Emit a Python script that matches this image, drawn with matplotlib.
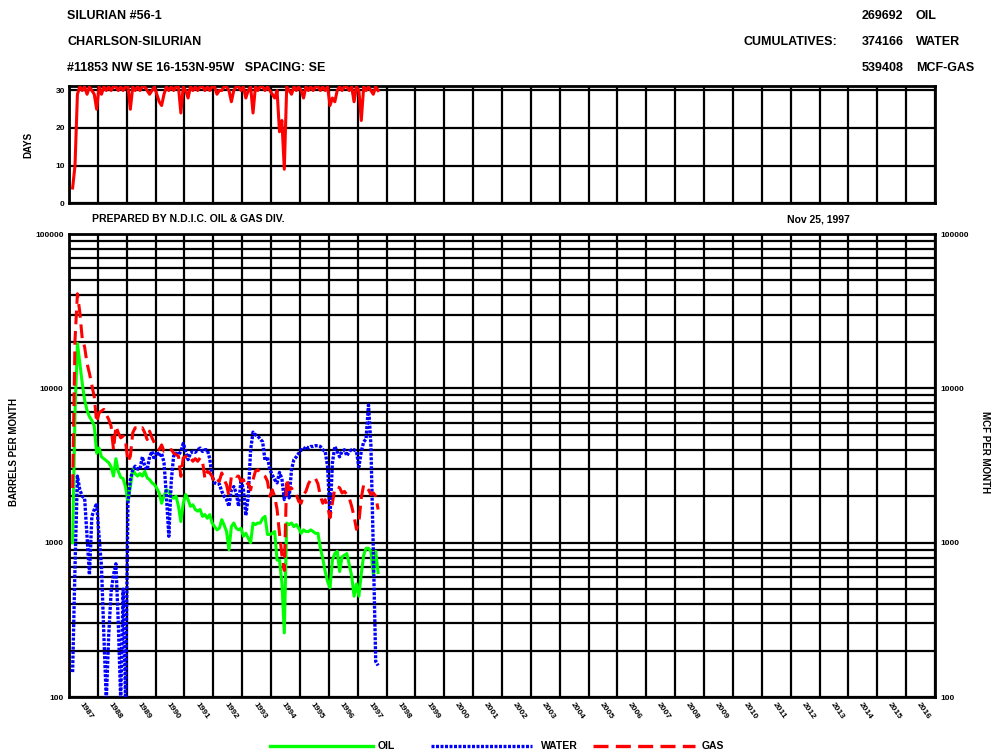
import numpy as np
import matplotlib
matplotlib.use('Agg')
import matplotlib.pyplot as plt
from matplotlib.lines import Line2D
from matplotlib.ticker import LogLocator, NullFormatter, FixedLocator

FONT = ['Liberation Sans Narrow', 'Liberation Sans', 'DejaVu Sans']

# ---- well header -------------------------------------------------------
header_left = ['SILURIAN #56-1', 'CHARLSON-SILURIAN', '#11853 NW SE 16-153N-95W   SPACING: SE']
cum_values = ['269692', '374166', '539408']
cum_names = ['OIL', 'WATER', 'MCF-GAS']
prepared = 'PREPARED BY N.D.I.C. OIL & GAS DIV.'
report_date = 'Nov 25, 1997'

# ---- monthly production, Feb 1987 .. Sep 1997 ---------------------------
first_month = 1987 + 1 / 12.  # Feb 1987
year_labels = list(range(1987, 2017))

days = [4, 10, 29, 31, 30, 31, 29, 31, 30, 29, 25,               # 1987
        31, 29, 31, 30, 31, 30, 31, 31, 30, 31, 30, 31,          # 1988
        31, 25, 31, 30, 31, 30, 31, 31, 30, 29, 30, 31,          # 1989
        29, 27, 26, 29, 31, 30, 31, 30, 31, 31, 24, 31,          # 1990
        30, 28, 31, 30, 31, 30, 31, 31, 30, 31, 30, 31,          # 1991
        31, 29, 30, 30, 31, 31, 30, 27, 30, 31, 31, 30,          # 1992
        31, 28, 30, 31, 24, 31, 30, 31, 31, 30, 31, 30,          # 1993
        29, 28, 30, 19, 22, 9, 31, 30, 29, 31, 30, 31,           # 1994
        30, 28, 31, 30, 31, 30, 31, 31, 30, 31, 30, 31,          # 1995
        26, 28, 27, 30, 31, 30, 31, 31, 30, 31, 27, 31,          # 1996
        30, 22, 31, 30, 31, 30, 29, 31, 30]                      # 1997

oil = [1000, 7000, 19600, 14500, 10800, 8400, 7200, 6550, 6200, 5700, 3800,
       4100, 3600, 3500, 3400, 3300, 3100, 2700, 3500, 2900, 2650, 2600, 2300,
       1850, 2300, 2970, 2800, 2700, 2800, 2700, 2900, 2630, 2560, 2440, 2380,
       2250, 2100, 1800, 2000, 2200, 2150, 1990, 1940, 2000, 1720, 1370, 1800,
       2050, 1900, 1720, 1760, 1640, 1600, 1640, 1480, 1520, 1440, 1520, 1340,
       1270, 1210, 1240, 1410, 1300, 1180, 900, 1270, 1340, 1240, 1210, 1240,
       1100, 1150, 1070, 1000, 1340, 1310, 1340, 1340, 1440, 1480, 1130, 1130,
       1150, 1180, 770, 770, 550, 260, 1340, 1310, 1340, 1270, 1310, 1240,
       1150, 1210, 1180, 1180, 1210, 1180, 1150, 1150, 920, 790, 650, 560,
       510, 770, 850, 880, 650, 810, 830, 850, 720, 610, 450, 540,
       450, 630, 830, 920, 920, 880, 620, 880, 640]

water = [145, 700, 2700, 2200, 2000, 1940, 1100, 620, 1480, 1640, 1800,
         1100, 700, 250, 95, 250, 480, 620, 730, 300, 95, 500, 95,
         1800, 2560, 2970, 3130, 3000, 3000, 3600, 3130, 2970, 3600, 3900, 3450,
         3900, 3630, 3800, 3300, 2000, 1100, 2500, 3650, 3800, 3700, 3900, 4400,
         3900, 3450, 3800, 3900, 3850, 4000, 4100, 3900, 4000, 4000, 3500, 2690,
         2440, 2400, 2400, 2150, 2000, 1900, 1720, 2200, 2310, 2100, 1720, 2560,
         2200, 1500, 1990, 4000, 5200, 5000, 4900, 4700, 4500, 3400, 3600, 2970,
         2750, 2560, 2440, 2850, 2600, 1900, 2300, 1950, 2970, 3450, 3600, 3800,
         4000, 4000, 4200, 4100, 4200, 4200, 4250, 4250, 4200, 4000, 3900, 3100,
         1480, 3290, 4200, 3900, 3600, 3900, 4000, 3650, 3900, 4000, 4000, 3900,
         3100, 3900, 4500, 4700, 7800, 4300, 900, 170, 160]

gas = [2260, 20600, 41000, 31000, 21000, 18500, 14500, 12500, 10500, 8800, 6000,
       6950, 7120, 7300, 6770, 6290, 5690, 4000, 5690, 5150, 4780, 4900, 4550,
       3350, 3630, 5150, 5550, 5550, 5410, 5550, 5150, 4660, 5280, 4780, 4430,
       4220, 4010, 4300, 3910, 3950, 3910, 4010, 3810, 3720, 3630, 2690, 3540,
       3630, 3450, 3540, 3370, 3500, 3370, 3540, 3370, 2600, 2900, 2830, 2690,
       2440, 2560, 2500, 2830, 2560, 2370, 2000, 2690, 2760, 2690, 2700, 2500,
       2560, 2310, 2440, 2200, 2560, 2900, 2970, 2830, 2760, 2690, 2500, 2000,
       2200, 1990, 1640, 1150, 830, 660, 2600, 2200, 2260, 2100, 2050, 1850,
       1800, 2050, 2150, 2400, 2560, 2560, 2600, 2400, 2000, 1800, 1900, 1720,
       1450, 1800, 2250, 2300, 2270, 2100, 2150, 2050, 1950, 1720, 1480, 1220,
       1350, 1950, 2370, 2300, 2200, 2050, 2100, 2000, 1640]

# mid-month positions in decimal years
t = first_month + (np.arange(len(oil)) + 0.5) / 12.

W, H = 995, 755
WATER_LS = (0, (0.9, 0.45))  # dense square dots
GAS_LS = (0, (4.5, 2.2))


def fpos(x, y):
    """pixel position -> figure fraction"""
    return x / W, 1 - y / H


def ftext(x, y, s, size=9, **kw):
    fx, fy = fpos(x, y)
    fig.text(fx, fy, s, fontsize=size, fontweight='bold', family=FONT, va='center', **kw)


fig = plt.figure(figsize=(W / 100, H / 100), dpi=100)
ax_d = fig.add_axes([69 / W, 1 - 203 / H, 866 / W, 117 / H])
ax = fig.add_axes([69 / W, 1 - 697 / H, 866 / W, 463 / H])

grid_kw = dict(color='black', lw=1.6)

# ---- days panel ----------------------------------------------------------
ax_d.plot(t, days, color='#ff0000', lw=2.2, zorder=3)
ax_d.set_xlim(1987, 2017)
ax_d.set_ylim(0, 31.2)
ax_d.set_xticks(range(1987, 2018))
ax_d.set_yticks([0, 10, 20, 30])
ax_d.grid(True, **grid_kw)
ax_d.tick_params(length=0, labelbottom=False, labelsize=6, pad=3)
for lab in ax_d.get_yticklabels():
    lab.set_fontweight('bold')
    lab.set_family(FONT)
for sp in ax_d.spines.values():
    sp.set_linewidth(2)

# ---- production panel ----------------------------------------------------
ax.plot(t, oil, color='#00ff00', lw=2.2, zorder=3)
ax.plot(t, water, color='#0000ff', lw=2.4, ls=WATER_LS, dash_capstyle='butt', zorder=4)
ax.plot(t, gas, color='#ff0000', lw=2.2, ls=GAS_LS, zorder=5)
ax.set_yscale('log')
ax.set_xlim(1987, 2017)
ax.set_ylim(100, 100000)
ax.set_xticks(range(1987, 2018))
ax.set_xticklabels([])
ax.yaxis.set_major_locator(FixedLocator([100, 1000, 10000, 100000]))
ax.yaxis.set_minor_locator(LogLocator(base=10, subs=range(2, 10)))
ax.yaxis.set_minor_formatter(NullFormatter())
ax.set_yticklabels(['100', '1000', '10000', '100000'])
ax.grid(True, which='major', **grid_kw)
ax.grid(True, which='minor', axis='y', **grid_kw)
ax.tick_params(which='both', length=0, labelsize=6, pad=4, labelright=True)
for lab in ax.get_yticklabels():
    lab.set_fontweight('bold')
    lab.set_family(FONT)
for sp in ax.spines.values():
    sp.set_linewidth(2)

for yr in year_labels:
    ax.text(yr + 0.6, -0.03, str(yr), transform=ax.get_xaxis_transform(),
            rotation=-55, ha='center', va='center', fontsize=6, fontweight='bold', family=FONT)

# ---- header texts ----------------------------------------------------------
for i, s in enumerate(header_left):
    ftext(67, 16 + 26 * i, s)
ftext(744, 42, 'CUMULATIVES:')
for i in range(3):
    ftext(862, 16 + 26 * i, cum_values[i])
    ftext(916, 16 + 26 * i, cum_names[i])

ftext(92, 219, prepared, size=7.5)
ftext(787, 219, report_date, size=7.5)

ftext(28, 145, 'DAYS', size=7, rotation=90, ha='center')
ftext(14, 452, 'BARRELS PER MONTH', size=7, rotation=90, ha='center')
ftext(985, 452, 'MCF PER MONTH', size=7, rotation=270, ha='center')

# ---- legend at the bottom ------------------------------------------------------
leg_y = 746
legend_items = [('OIL', '#00ff00', '-', 270, 373, 378),
                ('WATER', '#0000ff', WATER_LS, 431, 532, 541),
                ('GAS', '#ff0000', GAS_LS, 593, 695, 702)]
for name, col, ls, x0, x1, xt in legend_items:
    (a0, yy), (a1, _) = fpos(x0, leg_y), fpos(x1, leg_y)
    fig.add_artist(Line2D([a0, a1], [yy, yy], transform=fig.transFigure,
                          color=col, lw=2.4, ls=ls, dash_capstyle='butt'))
    ftext(xt, leg_y, name, size=7.5)

fig.savefig('out.png', dpi=100, facecolor='white')
